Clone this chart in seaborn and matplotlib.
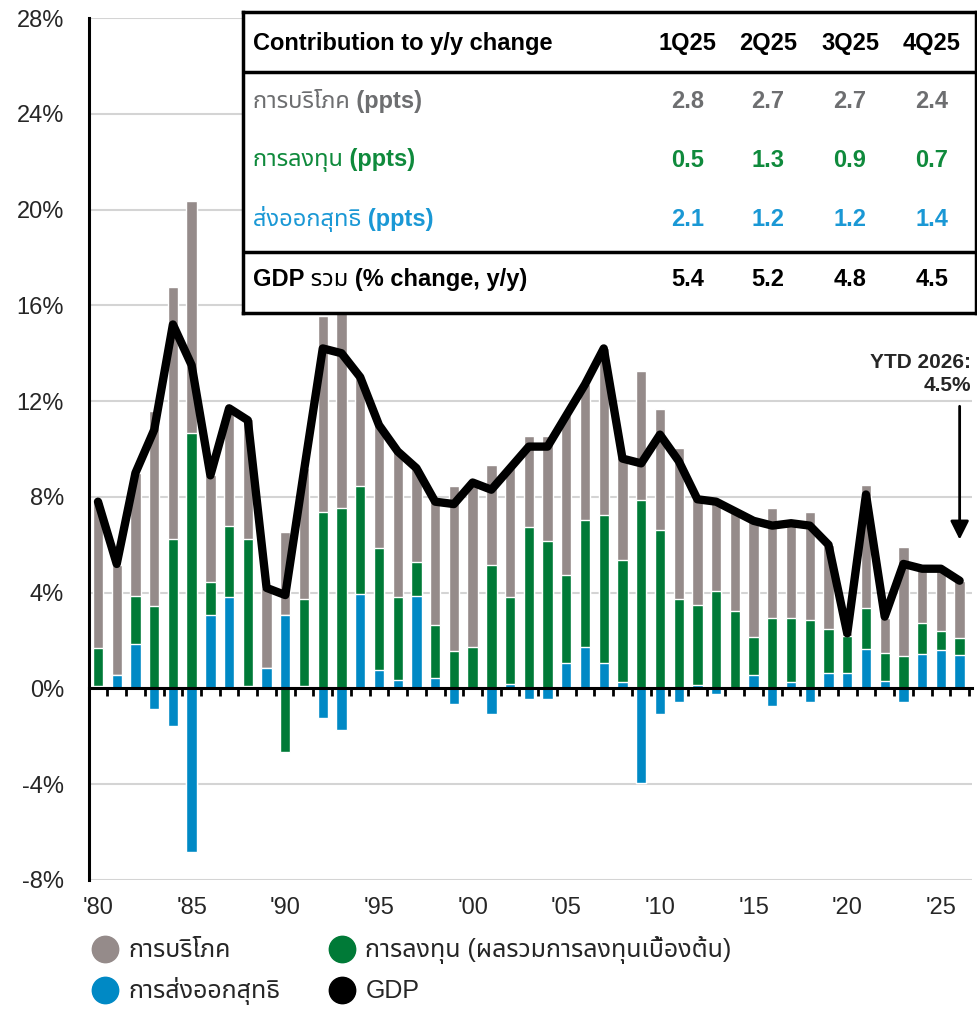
import numpy as np
import pandas as pd
import matplotlib
matplotlib.use("Agg")
import matplotlib.pyplot as plt
from matplotlib import font_manager as fm
from matplotlib.lines import Line2D
import seaborn as sns

# yearly contributions to GDP growth (ppts)
years = list(range(1980, 2027))
consumption = [6.1, 4.6, 5.15, 8.15, 10.5, 9.7, 4.45, 4.9, 5.0, 3.35,
               3.5, 5.45, 8.2, 8.15, 4.55, 5.15, 6.1, 3.9, 5.2, 6.9,
               6.85, 4.2, 5.4, 3.8, 4.4, 6.65, 5.65, 6.95, 4.3, 5.4,
               5.05, 6.3, 4.4, 3.85, 4.15, 4.85, 4.6, 3.95, 4.5, 3.5,
               0.1, 5.15, 1.45, 4.55, 2.25, 2.6, 2.4]
investment = [1.6, 0.0, 2.0, 3.45, 6.25, 10.65, 1.4, 3.0, 6.15, 0.0,
              -2.65, 3.65, 7.35, 7.55, 4.5, 5.1, 3.45, 1.45, 2.2, 1.55,
              1.75, 5.15, 3.6, 6.75, 6.15, 3.7, 5.3, 6.2, 5.1, 7.85,
              6.6, 3.75, 3.35, 4.05, 3.25, 1.6, 2.95, 2.7, 2.85, 1.85,
              1.55, 1.7, 1.2, 1.35, 1.3, 0.8, 0.7]
net_exports = [0.1, 0.55, 1.85, -0.85, -1.55, -6.85, 3.05, 3.8, 0.1, 0.85,
               3.05, 0.1, -1.25, -1.75, 3.95, 0.75, 0.35, 3.85, 0.45, -0.65,
               0.0, -1.05, 0.2, -0.45, -0.45, 1.05, 1.75, 1.05, 0.25, -3.95,
               -1.05, -0.55, 0.15, -0.25, 0.0, 0.55, -0.75, 0.25, -0.55, 0.65,
               0.65, 1.65, 0.3, -0.55, 1.45, 1.6, 1.4]
gdp = [7.8, 5.2, 9.0, 10.8, 15.2, 13.5, 8.9, 11.7, 11.2, 4.2,
       3.9, 9.1, 14.2, 14.0, 13.0, 11.0, 9.9, 9.2, 7.8, 7.7,
       8.6, 8.3, 9.2, 10.1, 10.1, 11.4, 12.7, 14.2, 9.6, 9.4,
       10.6, 9.5, 7.9, 7.8, 7.4, 7.0, 6.8, 6.9, 6.8, 6.0,
       2.3, 8.1, 3.0, 5.2, 5.0, 5.0, 4.5]

# inset table
table_cols = ["1Q25", "2Q25", "3Q25", "4Q25"]
table_consumption = [2.8, 2.7, 2.7, 2.4]
table_investment = [0.5, 1.3, 0.9, 0.7]
table_net_exports = [2.1, 1.2, 1.2, 1.4]
table_gdp = [5.4, 5.2, 4.8, 4.5]

ytick_vals = list(range(-8, 29, 4))
xtick_years = list(range(1980, 2026, 5))
xtick_labels = ["'80", "'85", "'90", "'95", "'00", "'05", "'10", "'15", "'20", "'25"]

GRAY = "#958b8a"
GREEN = "#007a37"
BLUE = "#0089c5"
GRAY_TXT = "#6d6e70"
GREEN_TXT = "#0f8a3c"
BLUE_TXT = "#1a98d5"


def find_thai_font():
    preferred = ["Noto Sans Thai", "Noto Sans Thai UI", "Noto Sans Thai Looped", "Sarabun",
                 "Loma", "Garuda", "Waree", "Umpush", "Kinnari", "Norasi", "Tlwg Typo", "FreeSans"]
    names = {}
    for f in fm.fontManager.ttflist:
        try:
            cmap = fm.get_font(f.fname).get_charmap()
        except Exception:
            continue
        if 0x0E01 in cmap and 0x0E34 in cmap:
            names.setdefault(f.name, f.fname)
    for p in preferred:
        if p in names:
            return p
    return sorted(names)[0] if names else None


sns.set_style("white")
thai = find_thai_font()
families = ["Liberation Sans"] + ([thai] if thai else []) + ["DejaVu Sans"]
plt.rcParams["font.family"] = families

df = pd.DataFrame({"year": years, "c": consumption, "i": investment,
                   "nx": net_exports, "gdp": gdp})
pos_nx = df["nx"].clip(lower=0)
pos_i = df["i"].clip(lower=0)
df["blue_top"] = pos_nx
df["green_top"] = pos_nx + pos_i
df["gray_top"] = pos_nx + pos_i + df["c"].clip(lower=0)
df["blue_neg"] = df["nx"].clip(upper=0)
df["green_neg"] = df["nx"].clip(upper=0) + df["i"].clip(upper=0)

fig = plt.figure(figsize=(9.77, 10.11), dpi=100)
ax = fig.add_axes([89 / 977, 1 - 880 / 1011, (972 - 89) / 977, (880 - 18) / 1011])

bar_kw = dict(native_scale=True, width=0.55, errorbar=None, saturation=1,
              edgecolor="white", linewidth=1, ax=ax)
sns.barplot(data=df, x="year", y="gray_top", color=GRAY, **bar_kw)
sns.barplot(data=df, x="year", y="green_top", color=GREEN, **bar_kw)
sns.barplot(data=df, x="year", y="blue_top", color=BLUE, **bar_kw)
sns.barplot(data=df, x="year", y="green_neg", color=GREEN, **bar_kw)
sns.barplot(data=df, x="year", y="blue_neg", color=BLUE, **bar_kw)

sns.lineplot(data=df, x="year", y="gdp", color="black", linewidth=6, ax=ax, zorder=4)

ax.set_xlim(1979.52, 2026.66)
ax.set_ylim(-8, 28)
ax.set_yticks(ytick_vals)
ax.set_yticklabels([f"{v}%" for v in ytick_vals], fontsize=17)
ax.set_xticks(xtick_years)
ax.set_xticklabels(xtick_labels, fontsize=17)
ax.tick_params(axis="both", length=0)
ax.tick_params(axis="y", pad=18)
ax.tick_params(axis="x", pad=12)
ax.set_xlabel("")
ax.set_ylabel("")
ax.yaxis.grid(True, color="#d4d4d4", linewidth=1.5)
ax.xaxis.grid(False)
ax.set_axisbelow(True)
for s in ["top", "right", "bottom"]:
    ax.spines[s].set_visible(False)
ax.spines["left"].set_color("black")
ax.spines["left"].set_linewidth(2.2)

# zero line with year ticks between bars
zero = ax.secondary_xaxis(8 / 36)
zero.set_zorder(3)
zero.spines["bottom"].set_color("black")
zero.spines["bottom"].set_linewidth(2.2)
zero.set_xticks(np.arange(1979.5, 2027, 1.0))
zero.set_xticklabels([])
zero.tick_params(axis="x", length=6, width=2, color="black", direction="out")

# YTD annotation
ax.annotate("", xy=(2026, 6.1), xytext=(2026, 11.9),
            arrowprops=dict(arrowstyle="-|>", color="black", lw=2, mutation_scale=28))
ax.text(2026.62, 12.25, "YTD 2026:\n4.5%", ha="right", va="bottom",
        fontsize=15, fontweight="bold", linespacing=1.25)

# inset table
tax = fig.add_axes([243 / 977, 1 - 313 / 1011, 733 / 977, 301 / 1011])
tax.set_facecolor("white")
tax.set_xticks([])
tax.set_yticks([])
for s in tax.spines.values():
    s.set_color("black")
    s.set_linewidth(2.5)
tax.set_xlim(0, 1)
tax.set_ylim(0, 1)
tax.axhline(0.8007, color="black", lw=2.5)
tax.axhline(0.2027, color="black", lw=2.5)

col_x = [0.607, 0.716, 0.828, 0.94]
rows = [
    ("Contribution to y/y change", table_cols, "black", 0.897),
    ("การบริโภค (ppts)", [f"{v:.1f}" for v in table_consumption], GRAY_TXT, 0.704),
    ("การลงทุน (ppts)", [f"{v:.1f}" for v in table_investment], GREEN_TXT, 0.508),
    ("ส่งออกสุทธิ (ppts)", [f"{v:.1f}" for v in table_net_exports], BLUE_TXT, 0.312),
    ("GDP รวม (% change, y/y)", [f"{v:.1f}" for v in table_gdp], "black", 0.110),
]
for label, vals, col, y in rows:
    tax.text(0.0136, y, label, ha="left", va="center", fontsize=17,
             fontweight="bold", color=col)
    for x, v in zip(col_x, vals):
        tax.text(x, y, v, ha="center", va="center", fontsize=17,
                 fontweight="bold", color=col)

# legend
handles = [
    Line2D([], [], marker="o", linestyle="", markersize=19, color=GRAY),
    Line2D([], [], marker="o", linestyle="", markersize=19, color=BLUE),
    Line2D([], [], marker="o", linestyle="", markersize=19, color=GREEN),
    Line2D([], [], marker="o", linestyle="", markersize=19, color="black"),
]
labels = ["การบริโภค", "การส่งออกสุทธิ", "การลงทุน (ผลรวมการลงทุนเบื้องต้น)", "GDP"]
fig.legend(handles, labels, ncol=2, loc="upper left", bbox_to_anchor=(0.07, 0.096),
           frameon=False, fontsize=18, handletextpad=0.4, columnspacing=1.9,
           labelspacing=0.6, handlelength=1.1)

fig.savefig("out.png", dpi=100)
